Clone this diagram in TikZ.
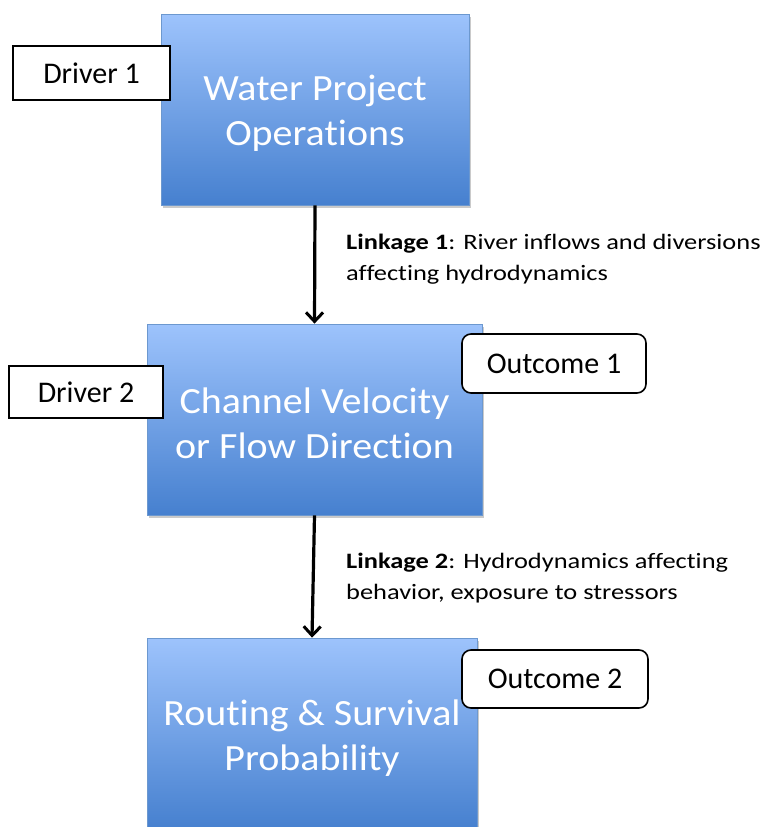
\documentclass[tikz,border=0pt]{standalone}
\usepackage{fontspec}
\setmainfont{Carlito}[Ligatures=NoCommon]
\usetikzlibrary{arrows.meta,shadows}
\definecolor{boxtop}{HTML}{9DC3FC}
\definecolor{boxbot}{HTML}{4680CF}
\definecolor{boxline}{HTML}{6C98CF}
\tikzset{
  mainbox/.style={rectangle, draw=boxline, line width=0.8pt, top color=boxtop, bottom color=boxbot,
    inner sep=0pt,
    drop shadow={shadow xshift=2pt, shadow yshift=-3pt, opacity=0.35, fill=black!60}},
  boxlabel/.style={text=white, font=\fontsize{37}{45}\selectfont\addfontfeature{FakeStretch=1.08}, align=center, inner sep=0pt},
  driverbox/.style={rectangle, draw=black, line width=1.6pt, fill=white, font=\fontsize{30}{34}\selectfont, inner sep=0pt},
  outbox/.style={rectangle, rounded corners=9pt, draw=black, line width=1.6pt, fill=white, font=\fontsize{30}{34}\selectfont, inner sep=0pt},
  linktext/.style={anchor=base west, align=left, font=\fontsize{22}{31}\selectfont\addfontfeature{FakeStretch=1.2}, inner sep=0pt},
  flowarrow/.style={line width=3.2pt, -{Straight Barb[length=9pt,width=17pt,line width=3pt]}}
}
\begin{document}
\begin{tikzpicture}[x=1pt,y=-1pt]
\useasboundingbox (0,0) rectangle (767,827);
\clip (0,0) rectangle (767,827);
\node[mainbox, minimum width=308pt, minimum height=191pt] (b1) at (315,109.5) {};
\node[mainbox, minimum width=335pt, minimum height=191pt] (b2) at (314.5,419.5) {};
\node[mainbox, minimum width=330pt, minimum height=191pt] (b3) at (312,733.5) {};
\node[boxlabel] (t1) at ([yshift=-4pt]b1.center) {Water Project\\Operations};
\node[boxlabel] (t2) at ([yshift=-4pt]b2.center) {Channel Velocity\\or Flow Direction};
\node[boxlabel] (t3) at ([yshift=-5pt]b3.center) {Routing \& Survival\\Probability};
\node[driverbox, minimum width=157pt, minimum height=54pt] (d1) at (91.5,73) {Driver 1};
\node[driverbox, minimum width=154pt, minimum height=52pt] (d2) at (86,392) {Driver 2};
\node[outbox, minimum width=184pt, minimum height=59pt] (o1) at (554,363.5) {Outcome 1};
\node[outbox, minimum width=186pt, minimum height=58pt] (o2) at (555,679) {Outcome 2};
\draw[flowarrow] (b1.south) -- (b2.north);
\draw[flowarrow] (b2.south) -- (b3.north);
\node[linktext] (l1) at (346,280) {\textbf{Linkage 1}: River inflows and diversions\\affecting hydrodynamics};
\node[linktext] (l2) at (346,599) {\textbf{Linkage 2}: Hydrodynamics affecting\\behavior, exposure to stressors};
\end{tikzpicture}
\end{document}
